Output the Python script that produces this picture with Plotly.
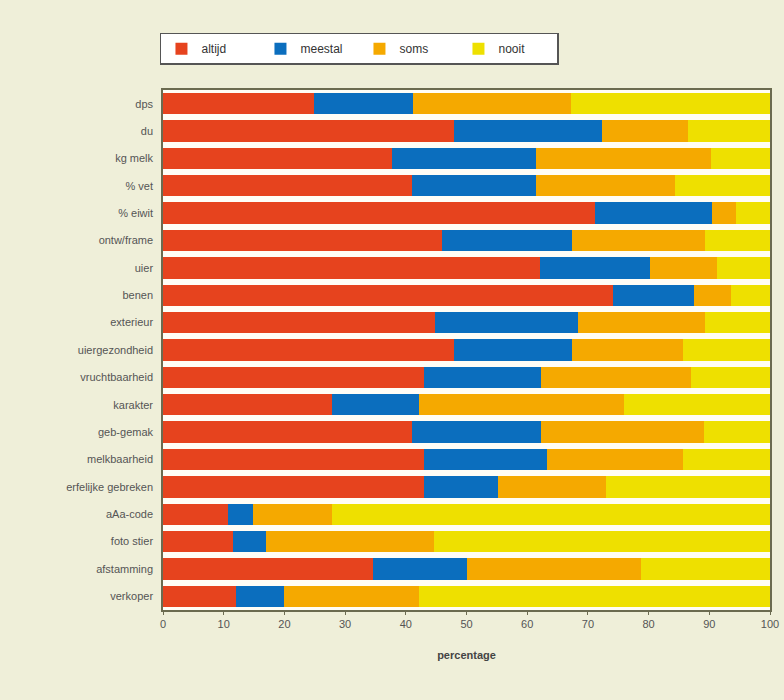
import plotly.graph_objects as go

categories = ["dps", "du", "kg melk", "% vet", "% eiwit", "ontw/frame", "uier", "benen",
              "exterieur", "uiergezondheid", "vruchtbaarheid", "karakter", "geb-gemak",
              "melkbaarheid", "erfelijke gebreken", "aAa-code", "foto stier", "afstamming", "verkoper"]

# cumulative boundaries
altijd_end = [24.9, 47.9, 37.8, 41.0, 71.1, 46.0, 62.1, 74.1, 44.8, 47.9, 43.0, 27.8, 41.0, 43.0, 43.0, 10.7, 11.6, 34.6, 12.0]
meestal_end = [41.2, 72.3, 61.4, 61.4, 90.5, 67.3, 80.3, 87.4, 68.3, 67.3, 62.2, 42.2, 62.2, 63.2, 55.2, 14.9, 16.9, 50.1, 20.0]
soms_end = [67.2, 86.5, 90.3, 84.4, 94.4, 89.3, 91.3, 93.6, 89.3, 85.7, 87.0, 75.9, 89.2, 85.7, 72.9, 27.9, 44.7, 78.7, 42.2]

altijd = [round(a, 1) for a in altijd_end]
meestal = [round(b - a, 1) for a, b in zip(altijd_end, meestal_end)]
soms = [round(c - b, 1) for b, c in zip(meestal_end, soms_end)]
nooit = [round(100 - c, 1) for c in soms_end]

series_names = ["altijd", "meestal", "soms", "nooit"]
series_values = [altijd, meestal, soms, nooit]
colors = ["#E6431E", "#0B6EBE", "#F5A900", "#EEE000"]

x_ticks = list(range(0, 101, 10))

fig = go.Figure()
for name, vals, col in zip(series_names, series_values, colors):
    fig.add_trace(go.Bar(
        y=categories, x=vals, name=name, orientation="h",
        marker=dict(color=col, line=dict(width=0)),
    ))

fig.update_layout(
    barmode="stack",
    bargap=0.22,
    width=784, height=700,
    margin=dict(l=163, r=12, t=90, b=90),
    paper_bgcolor="#EFEFD9",
    plot_bgcolor="#FFFDF6",
    font=dict(family="Liberation Sans, Arial, sans-serif", size=11, color="#555555"),
    legend=dict(
        orientation="h", x=-0.005, y=1.11, xanchor="left", yanchor="top",
        traceorder="normal",
        bgcolor="#FFFFFF", bordercolor="#555555", borderwidth=1.5,
        font=dict(size=12, color="#333333"),
        entrywidth=54, itemsizing="constant",
    ),
    xaxis=dict(
        range=[0, 100], tickvals=x_ticks, ticktext=[str(t) for t in x_ticks],
        showgrid=False, zeroline=False, showline=True, linecolor="#6B6B50", linewidth=1.5,
        mirror=True, ticks="outside", ticklen=3, tickcolor="#6B6B50", automargin=False,
        title=dict(text="<b>percentage</b>", standoff=22, font=dict(size=11, color="#444444")),
    ),
    yaxis=dict(
        autorange="reversed", showgrid=False, showline=True, linecolor="#6B6B50",
        linewidth=1.5, mirror=True, ticks="", ticklabelstandoff=6,
    ),
)

fig.write_html("out.html", config={"displayModeBar": False},
               post_script="document.body.style.margin='0';document.body.style.overflow='hidden';")
